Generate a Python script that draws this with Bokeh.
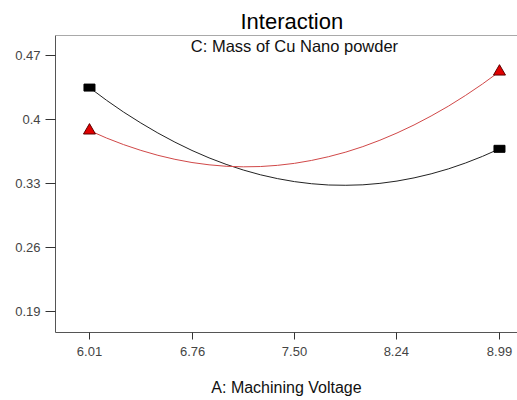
from bokeh.plotting import figure
from bokeh.models import Range1d, FixedTicker, Label, Span
from bokeh.embed import file_html
from bokeh.resources import INLINE

# Data
x_vals = [6.010, 6.134, 6.258, 6.383, 6.507, 6.631, 6.755, 6.879, 7.003, 7.128, 7.252, 7.376, 7.500,
          7.624, 7.748, 7.873, 7.997, 8.121, 8.245, 8.369, 8.493, 8.618, 8.742, 8.866, 8.990]
black_vals = [0.435, 0.4211, 0.4082, 0.3963, 0.3853, 0.3753, 0.3662, 0.3581, 0.3510, 0.3448, 0.3396,
              0.3354, 0.3321, 0.3298, 0.3284, 0.3281, 0.3286, 0.3302, 0.3327, 0.3362, 0.3406, 0.3460,
              0.3524, 0.3597, 0.368]
red_vals = [0.388, 0.3798, 0.3726, 0.3663, 0.3609, 0.3565, 0.3530, 0.3505, 0.3489, 0.3483, 0.3486,
            0.3499, 0.3521, 0.3553, 0.3594, 0.3644, 0.3704, 0.3774, 0.3853, 0.3941, 0.4039, 0.4146,
            0.4263, 0.4389, 0.4525]
end_x = [6.01, 8.99]
black_ends = [0.435, 0.368]
red_ends = [0.388, 0.4525]
x_ticks = [6.01, 6.76, 7.50, 8.24, 8.99]
x_tick_labels = ["6.01", "6.76", "7.50", "8.24", "8.99"]
y_ticks = [0.19, 0.26, 0.33, 0.40, 0.47]
y_tick_labels = ["0.19", "0.26", "0.33", "0.4", "0.47"]

FONT = "Liberation Sans"

p = figure(width=517, height=400, output_backend="svg", toolbar_location=None,
           x_range=Range1d(5.763, 9.121), y_range=Range1d(0.167, 0.492),
           min_border_left=55, min_border_right=0, min_border_top=35, min_border_bottom=68)

p.title.text = "Interaction"
p.title.text_font = FONT
p.title.text_font_size = "22px"
p.title.text_font_style = "normal"
p.title.text_color = "black"
p.title.align = "left"
p.title.offset = 185
p.title.standoff = 4

p.outline_line_color = None
p.grid.visible = False
p.background_fill_color = "white"
p.border_fill_color = "white"

top_line = Span(location=0.492, dimension="width", line_color="#555555", line_width=1)
p.add_layout(top_line)

for ax in (p.xaxis[0], p.yaxis[0]):
    ax.axis_line_color = "#555555"
    ax.major_tick_line_color = "#333333"
    ax.minor_tick_line_color = None
    ax.major_tick_in = 0
    ax.major_label_text_font = FONT
    ax.major_label_text_font_size = "13px"
    ax.major_label_text_color = "#444444"

p.xaxis.ticker = FixedTicker(ticks=x_ticks)
p.xaxis.major_label_overrides = dict(zip(x_ticks, x_tick_labels))
p.xaxis.major_tick_out = 7
p.xaxis.major_label_standoff = 7
p.xaxis.axis_label = "A: Machining Voltage"
p.xaxis.axis_label_text_font = FONT
p.xaxis.axis_label_text_font_size = "16px"
p.xaxis.axis_label_text_font_style = "normal"
p.xaxis.axis_label_text_color = "#111111"
p.xaxis.axis_label_standoff = 20

p.yaxis.ticker = FixedTicker(ticks=y_ticks)
p.yaxis.major_label_overrides = dict(zip(y_ticks, y_tick_labels))
p.yaxis.major_tick_out = 10
p.yaxis.major_label_standoff = 5

p.line(x_vals, black_vals, line_color="#222222", line_width=1)
p.line(x_vals, red_vals, line_color="#d04848", line_width=1)

p.rect(end_x, black_ends, width=11, height=7, width_units="screen", height_units="screen",
       fill_color="black", line_color="black")
p.scatter(end_x, red_ends, marker="triangle", size=12, fill_color="#e00000", line_color="#600000",
          line_width=1)

sub = Label(x=7.50, y=0.481, text="C: Mass of Cu Nano powder", text_align="center",
            text_baseline="middle", text_font=FONT, text_font_size="16.5px", text_color="#111111")
p.add_layout(sub)

open("out.html", "w").write(file_html(p, INLINE))
